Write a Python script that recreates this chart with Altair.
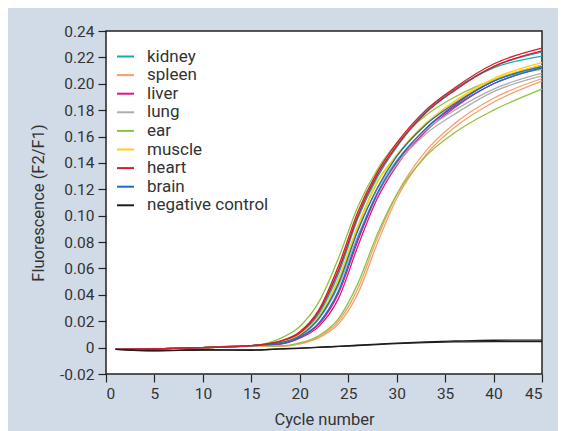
import altair as alt
import pandas as pd

cycles = [1, 5, 10, 15, 18, 20, 22, 24, 26, 28, 30, 33, 36, 40, 45]

tissues = ["kidney", "spleen", "liver", "lung", "ear", "muscle", "heart", "brain", "negative control"]
colors = ["#17a9b6", "#f5a06a", "#e5157f", "#aeaeae", "#8cc43f", "#ffd00a", "#d71c2b", "#1b6fc1", "#1e1e1e"]

base = [-0.0013, -0.001, 0.0, 0.0015]

heart_1 = base + [0.005, 0.012, 0.029, 0.062, 0.103, 0.133, 0.155, 0.180, 0.197, 0.215, 0.227]
heart_2 = base + [0.005, 0.011, 0.028, 0.059, 0.100, 0.131, 0.153, 0.178, 0.195, 0.213, 0.225]
kidney_1 = base + [0.0046, 0.0106, 0.027, 0.058, 0.0998, 0.1306, 0.153, 0.179, 0.196, 0.212, 0.221]
kidney_2 = base + [0.0044, 0.0099, 0.026, 0.056, 0.098, 0.129, 0.152, 0.178, 0.1955, 0.213, 0.224]
muscle_1 = base + [0.004, 0.010, 0.024, 0.0525, 0.093, 0.126, 0.146, 0.170, 0.187, 0.204, 0.216]
muscle_2 = base + [0.0039, 0.0095, 0.023, 0.051, 0.091, 0.125, 0.145, 0.169, 0.186, 0.203, 0.214]
lung_1 = base + [0.0039, 0.0093, 0.0232, 0.0506, 0.089, 0.120, 0.142, 0.165, 0.180, 0.196, 0.208]
lung_2 = base + [0.0036, 0.0086, 0.0218, 0.0468, 0.085, 0.117, 0.139, 0.162, 0.177, 0.194, 0.206]
brain_1 = base + [0.0037, 0.009, 0.0225, 0.0487, 0.089, 0.121, 0.145, 0.169, 0.185, 0.202, 0.213]
brain_2 = base + [0.003, 0.008, 0.019, 0.043, 0.083, 0.117, 0.141, 0.166, 0.183, 0.200, 0.212]
liver_1 = base + [0.0029, 0.0077, 0.018, 0.0411, 0.081, 0.116, 0.140, 0.166, 0.184, 0.202, 0.214]
liver_2 = base + [0.0026, 0.0071, 0.0163, 0.0373, 0.077, 0.113, 0.138, 0.164, 0.182, 0.200, 0.212]
ear_1 = base + [0.007, 0.016, 0.035, 0.068, 0.107, 0.135, 0.155, 0.176, 0.190, 0.203, 0.211]
ear_2 = base + [0.0013, 0.0036, 0.0092, 0.022, 0.0487, 0.086, 0.116, 0.145, 0.163, 0.180, 0.196]
spleen_1 = base + [0.001, 0.003, 0.0084, 0.020, 0.0449, 0.083, 0.116, 0.149, 0.170, 0.189, 0.204]
spleen_2 = base + [0.001, 0.0028, 0.0076, 0.018, 0.041, 0.079, 0.113, 0.146, 0.167, 0.186, 0.202]
neg_1 = [-0.0013, -0.0025, -0.0018, -0.002, -0.001, -0.0005, 0.0003, 0.001, 0.0018, 0.0026, 0.0034, 0.0044, 0.005, 0.0056, 0.0057]
neg_2 = [-0.0013, -0.0022, -0.0016, -0.0018, -0.0009, -0.0004, 0.0002, 0.0009, 0.0016, 0.0023, 0.003, 0.0038, 0.0043, 0.0046, 0.0046]

curves = [
    ("kidney", "kidney_1", kidney_1), ("kidney", "kidney_2", kidney_2),
    ("spleen", "spleen_1", spleen_1), ("spleen", "spleen_2", spleen_2),
    ("liver", "liver_1", liver_1), ("liver", "liver_2", liver_2),
    ("lung", "lung_1", lung_1), ("lung", "lung_2", lung_2),
    ("ear", "ear_1", ear_1), ("ear", "ear_2", ear_2),
    ("muscle", "muscle_1", muscle_1), ("muscle", "muscle_2", muscle_2),
    ("brain", "brain_1", brain_1), ("brain", "brain_2", brain_2),
    ("heart", "heart_1", heart_1), ("heart", "heart_2", heart_2),
    ("negative control", "neg_1", neg_1), ("negative control", "neg_2", neg_2),
]

rows = []
for order, (tissue, run, vals) in enumerate(curves):
    for c, v in zip(cycles, vals):
        rows.append({"cycle": c, "value": v, "tissue": tissue, "run": run, "order": order})
df = pd.DataFrame(rows)

FONT = "Roboto"
y_ticks = [round(-0.02 + 0.02 * i, 2) for i in range(14)]

chart = alt.Chart(df).mark_line(interpolate="monotone", strokeWidth=1.3).encode(
    x=alt.X("cycle:Q",
            scale=alt.Scale(domain=[0, 45], nice=False, zero=False),
            axis=alt.Axis(title="Cycle number", values=list(range(0, 46, 5)), labelPadding=4,
                          titlePadding=10)),
    y=alt.Y("value:Q",
            scale=alt.Scale(domain=[-0.02, 0.24], nice=False, zero=False),
            axis=alt.Axis(title="Fluorescence (F2/F1)", values=y_ticks,
                          labelExpr="datum.value == 0 ? '0' : replace(format(datum.value, '.2f'), '\u2212', '-')",
                          labelPadding=4, titlePadding=13)),
    color=alt.Color("tissue:N",
                    scale=alt.Scale(domain=tissues, range=colors),
                    legend=alt.Legend(title=None, orient="none", legendX=10, legendY=16,
                                      symbolType="stroke", symbolSize=289, symbolStrokeWidth=2,
                                      labelFontSize=17, labelFont=FONT, labelColor="#333333",
                                      labelOffset=12, rowPadding=0.6, padding=0)),
    detail="run:N",
    order="order:Q",
).properties(
    width=436, height=343,
    background="#d1dbe8",
    padding={"left": 98, "top": 23, "right": 16, "bottom": 57},
    autosize=alt.AutoSizeParams(type="none"),
).configure_view(
    fill="white", stroke="#222222", strokeWidth=1.5
).configure_axis(
    grid=False, domain=False, tickColor="#222222", tickSize=8, tickWidth=1.2,
    labelFont=FONT, labelFontSize=15.5, labelColor="#333333",
    titleFont=FONT, titleFontSize=16.5, titleFontWeight="normal", titleColor="#333333",
)

chart.save("out.html", embed_options={"renderer": "svg", "actions": False})
